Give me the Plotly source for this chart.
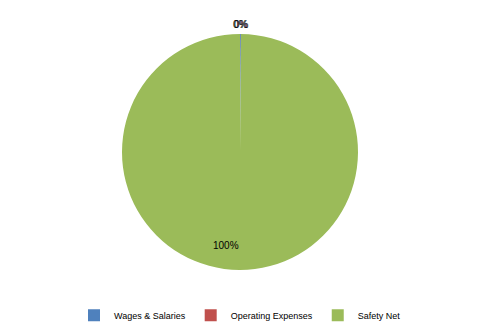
import math
import plotly.graph_objects as go

categories = ["Wages & Salaries", "Operating Expenses", "Safety Net"]
values = [0.12, 0.01, 99.87]
colors = ["#4F81BD", "#C0504D", "#9BBB59"]

W, H = 480, 333
M_T, M_B = 34, 63

fig = go.Figure(go.Pie(
    labels=categories,
    values=values,
    sort=False,
    direction="clockwise",
    rotation=0,
    marker=dict(colors=colors, line=dict(width=0)),
    textinfo="none",
    showlegend=True,
))

# labels placed from the data (slice mid-angles), Excel-style
total = sum(values)
plot_h = H - M_T - M_B
r_px = plot_h / 2
cx, cy = 0.5, 0.5  # paper coords of pie centre
cum = 0.0
annotations = []
for v in values:
    frac = v / total
    mid = (cum + frac / 2) * 2 * math.pi
    cum += frac
    pct = f"{round(frac * 100):.0f}%"
    if frac < 0.05:
        rr = r_px + 10
        xshift = 0
    else:
        rr = r_px * 0.79
        xshift = -14
    dx = rr * math.sin(mid)
    dy = rr * math.cos(mid)
    annotations.append(dict(
        x=cx + dx / W, y=cy + dy / plot_h, xref="paper", yref="paper",
        xanchor="center", yanchor="middle",
        text=pct, showarrow=False, xshift=xshift,
        font=dict(family="Liberation Sans", size=10, color="black"),
    ))

fig.update_layout(
    width=W, height=H,
    margin=dict(l=0, r=0, t=M_T, b=M_B),
    paper_bgcolor="white",
    plot_bgcolor="white",
    font=dict(family="Liberation Sans", size=9, color="black"),
    annotations=annotations,
    legend=dict(orientation="h", x=0.5, xanchor="center", y=-0.13, yanchor="top",
                font=dict(size=9), itemwidth=30, traceorder="normal"),
)

fig.write_html("out.html")
